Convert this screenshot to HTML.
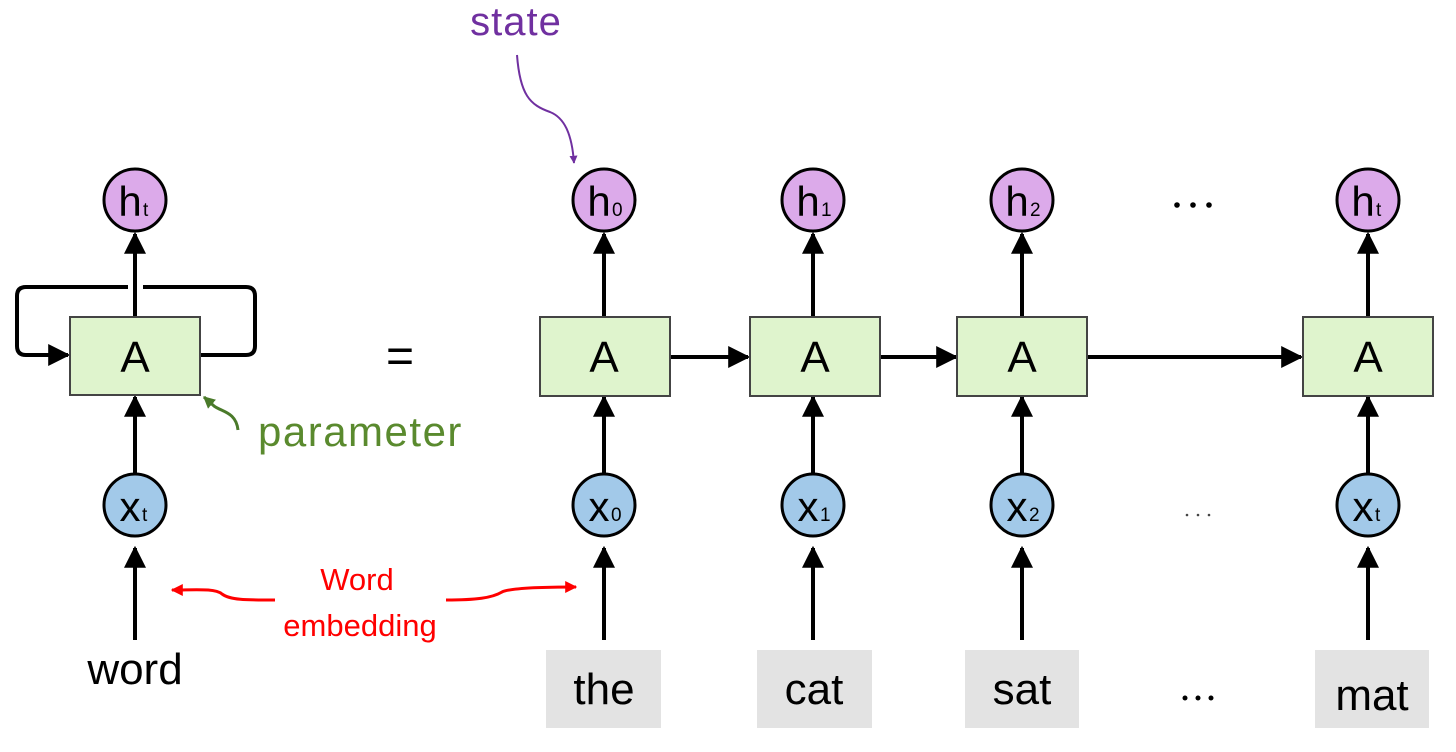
<!DOCTYPE html>
<html><head><meta charset="utf-8"><style>
html,body{margin:0;padding:0;background:#fff;}
svg{display:block;font-family:"Liberation Sans",sans-serif;}
</style></head><body>
<svg width="1456" height="752" viewBox="0 0 1456 752" xmlns="http://www.w3.org/2000/svg">
<defs>
<marker id="ar" viewBox="0 0 10 10" refX="9" refY="5" markerWidth="5.5" markerHeight="5.5" orient="auto"><path d="M0,0 L10,5 L0,10 z" fill="#000"/></marker>
<marker id="rr" viewBox="0 0 10 10" refX="9" refY="5" markerWidth="4" markerHeight="4" orient="auto"><path d="M0,0 L10,5 L0,10 z" fill="#f00"/></marker>
<marker id="pr" viewBox="0 0 10 10" refX="9" refY="5" markerWidth="4" markerHeight="4" orient="auto"><path d="M0,0 L10,5 L0,10 z" fill="#7030a0"/></marker>
<marker id="gr" viewBox="0 0 10 10" refX="9" refY="5" markerWidth="4" markerHeight="4" orient="auto"><path d="M0,0 L10,5 L0,10 z" fill="#4a7a2a"/></marker>
</defs>

<text x="516" y="35" font-size="40" fill="#7030a0" text-anchor="middle" letter-spacing="1">state</text>
<path d="M517,55 C520,95 530,105 550,112 C565,118 572,135 574,163" fill="none" stroke="#7030a0" stroke-width="2" marker-end="url(#pr)"/>

<path d="M128,287 L26,287 Q17,287 17,296 L17,346 Q17,355 26,355 L68,355" fill="none" stroke="#000" stroke-width="4" marker-end="url(#ar)"/>
<path d="M143,287 L246,287 Q255,287 255,296 L255,346 Q255,355 246,355 L201,355" fill="none" stroke="#000" stroke-width="4"/>
<line x1="135" y1="317" x2="135" y2="234" stroke="#000" stroke-width="4" marker-end="url(#ar)"/>
<line x1="135" y1="473" x2="135" y2="397" stroke="#000" stroke-width="4" marker-end="url(#ar)"/>
<line x1="135" y1="640" x2="135" y2="548" stroke="#000" stroke-width="4" marker-end="url(#ar)"/>
<rect x="70" y="317" width="130" height="78" fill="#dff4cd" stroke="#444" stroke-width="2"/>
<text x="135" y="372" font-size="44" text-anchor="middle">A</text>
<circle cx="135" cy="200" r="31" fill="#dcaaea" stroke="#000" stroke-width="3"/>
<text x="130" y="216" font-size="42" text-anchor="middle">h</text><text x="143" y="216" font-size="19">t</text>
<circle cx="135" cy="505" r="31" fill="#a2c9e9" stroke="#000" stroke-width="3"/>
<text x="130" y="521" font-size="42" text-anchor="middle">x</text><text x="142" y="521" font-size="19">t</text>
<text x="135" y="684" font-size="44" text-anchor="middle">word</text>

<path d="M238,430 C236,412 222,412 214,406 L204,397" fill="none" stroke="#4a7a2a" stroke-width="3" marker-end="url(#gr)"/>
<text x="258" y="446" font-size="42" fill="#5a8a2e" letter-spacing="1.5">parameter</text>

<text x="400" y="372" font-size="48" text-anchor="middle">=</text>

<text x="357" y="590" font-size="31" fill="#f00" text-anchor="middle">Word</text>
<text x="360" y="636" font-size="31" fill="#f00" text-anchor="middle">embedding</text>
<path d="M275,600 C245,600 230,600 222,594 C215,588 195,590 172,590" fill="none" stroke="#f00" stroke-width="3" marker-end="url(#rr)"/>
<path d="M446,600 C476,600 492,598 502,592 C510,588 540,587 576,587" fill="none" stroke="#f00" stroke-width="3" marker-end="url(#rr)"/>

<line x1="670" y1="357" x2="748" y2="357" stroke="#000" stroke-width="4" marker-end="url(#ar)"/>
<line x1="880" y1="357" x2="956" y2="357" stroke="#000" stroke-width="4" marker-end="url(#ar)"/>
<line x1="1088" y1="357" x2="1301" y2="357" stroke="#000" stroke-width="4" marker-end="url(#ar)"/>

<line x1="604" y1="317" x2="604" y2="234" stroke="#000" stroke-width="4" marker-end="url(#ar)"/>
<line x1="604" y1="473" x2="604" y2="397" stroke="#000" stroke-width="4" marker-end="url(#ar)"/>
<line x1="604" y1="640" x2="604" y2="548" stroke="#000" stroke-width="4" marker-end="url(#ar)"/>
<rect x="540" y="317" width="130" height="79" fill="#dff4cd" stroke="#444" stroke-width="2"/>
<text x="604" y="372" font-size="44" text-anchor="middle">A</text>
<circle cx="604" cy="200" r="31" fill="#dcaaea" stroke="#000" stroke-width="3"/>
<text x="599" y="216" font-size="42" text-anchor="middle">h</text><text x="612" y="216" font-size="19">0</text>
<circle cx="604" cy="505" r="31" fill="#a2c9e9" stroke="#000" stroke-width="3"/>
<text x="599" y="521" font-size="42" text-anchor="middle">x</text><text x="611" y="521" font-size="19">0</text>
<rect x="546" y="650" width="115" height="78" fill="#e3e3e3"/>
<text x="604" y="704" font-size="44" text-anchor="middle">the</text>

<line x1="813" y1="317" x2="813" y2="234" stroke="#000" stroke-width="4" marker-end="url(#ar)"/>
<line x1="813" y1="473" x2="813" y2="397" stroke="#000" stroke-width="4" marker-end="url(#ar)"/>
<line x1="813" y1="640" x2="813" y2="548" stroke="#000" stroke-width="4" marker-end="url(#ar)"/>
<rect x="750" y="317" width="130" height="79" fill="#dff4cd" stroke="#444" stroke-width="2"/>
<text x="815" y="372" font-size="44" text-anchor="middle">A</text>
<circle cx="813" cy="200" r="31" fill="#dcaaea" stroke="#000" stroke-width="3"/>
<text x="808" y="216" font-size="42" text-anchor="middle">h</text><text x="821" y="216" font-size="19">1</text>
<circle cx="813" cy="505" r="31" fill="#a2c9e9" stroke="#000" stroke-width="3"/>
<text x="808" y="521" font-size="42" text-anchor="middle">x</text><text x="820" y="521" font-size="19">1</text>
<rect x="757" y="650" width="115" height="78" fill="#e3e3e3"/>
<text x="814" y="704" font-size="44" text-anchor="middle">cat</text>

<line x1="1022" y1="317" x2="1022" y2="234" stroke="#000" stroke-width="4" marker-end="url(#ar)"/>
<line x1="1022" y1="473" x2="1022" y2="397" stroke="#000" stroke-width="4" marker-end="url(#ar)"/>
<line x1="1022" y1="640" x2="1022" y2="548" stroke="#000" stroke-width="4" marker-end="url(#ar)"/>
<rect x="957" y="317" width="130" height="79" fill="#dff4cd" stroke="#444" stroke-width="2"/>
<text x="1022" y="372" font-size="44" text-anchor="middle">A</text>
<circle cx="1022" cy="200" r="31" fill="#dcaaea" stroke="#000" stroke-width="3"/>
<text x="1017" y="216" font-size="42" text-anchor="middle">h</text><text x="1030" y="216" font-size="19">2</text>
<circle cx="1022" cy="505" r="31" fill="#a2c9e9" stroke="#000" stroke-width="3"/>
<text x="1017" y="521" font-size="42" text-anchor="middle">x</text><text x="1029" y="521" font-size="19">2</text>
<rect x="965" y="650" width="114" height="78" fill="#e3e3e3"/>
<text x="1022" y="704" font-size="44" text-anchor="middle">sat</text>

<line x1="1368" y1="317" x2="1368" y2="234" stroke="#000" stroke-width="4" marker-end="url(#ar)"/>
<line x1="1368" y1="473" x2="1368" y2="397" stroke="#000" stroke-width="4" marker-end="url(#ar)"/>
<line x1="1368" y1="640" x2="1368" y2="548" stroke="#000" stroke-width="4" marker-end="url(#ar)"/>
<rect x="1303" y="317" width="130" height="79" fill="#dff4cd" stroke="#444" stroke-width="2"/>
<text x="1368" y="372" font-size="44" text-anchor="middle">A</text>
<circle cx="1368" cy="200" r="31" fill="#dcaaea" stroke="#000" stroke-width="3"/>
<text x="1363" y="216" font-size="42" text-anchor="middle">h</text><text x="1376" y="216" font-size="19">t</text>
<circle cx="1368" cy="505" r="31" fill="#a2c9e9" stroke="#000" stroke-width="3"/>
<text x="1363" y="521" font-size="42" text-anchor="middle">x</text><text x="1375" y="521" font-size="19">t</text>
<rect x="1315" y="650" width="114" height="78" fill="#e3e3e3"/>
<text x="1372" y="710" font-size="44" text-anchor="middle">mat</text>

<circle cx="1177" cy="205" r="2.8" fill="#000"/><circle cx="1193" cy="205" r="2.8" fill="#000"/><circle cx="1209" cy="205" r="2.8" fill="#000"/>
<circle cx="1187" cy="515" r="1.3" fill="#444"/><circle cx="1198" cy="515" r="1.3" fill="#444"/><circle cx="1209" cy="515" r="1.3" fill="#444"/>
<circle cx="1185" cy="698" r="2.5" fill="#000"/><circle cx="1198" cy="698" r="2.5" fill="#000"/><circle cx="1211" cy="698" r="2.5" fill="#000"/>
</svg>
</body></html>
